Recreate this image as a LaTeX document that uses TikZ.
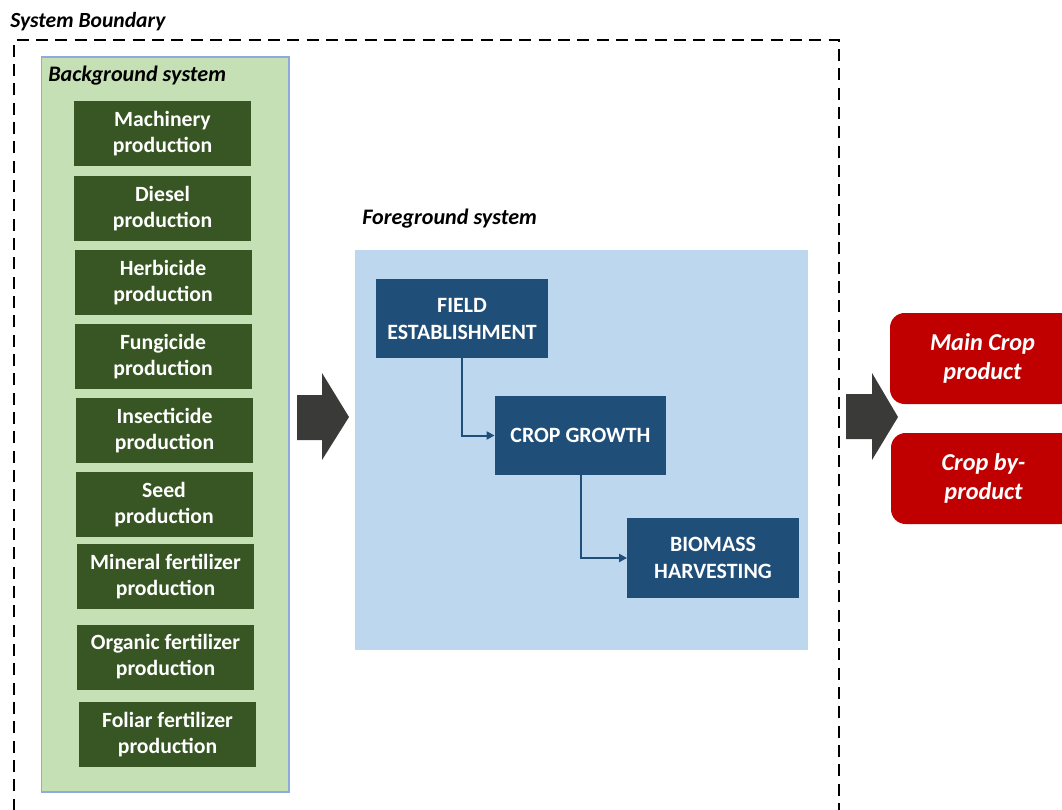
\documentclass[tikz,border=0pt]{standalone}
\usepackage{fontspec}
\setmainfont{Carlito}
\usetikzlibrary{arrows.meta}
\definecolor{bggreen}{HTML}{C5E0B4}
\definecolor{bgedge}{HTML}{8FAADC}
\definecolor{dkgreen}{HTML}{375623}
\definecolor{fgblue}{HTML}{BDD7EE}
\definecolor{dkblue}{HTML}{1F4E79}
\definecolor{crred}{HTML}{C00000}
\definecolor{arrgray}{HTML}{3A3A38}
\tikzset{
  gbox/.style={fill=dkgreen, text=white, font=\bfseries\fontsize{16.3}{19.5}\selectfont,
    minimum width=132.75pt, minimum height=48.75pt, inner sep=0pt, align=center},
  bbox/.style={fill=dkblue, text=white, font=\bfseries\fontsize{16.4}{20.25}\selectfont,
    minimum width=128.5pt, minimum height=59.5pt, inner sep=0pt, align=center},
  rbox/.style={fill=crred, text=white, rounded corners=11pt, font=\bfseries\itshape\fontsize{18.2}{21.75}\selectfont,
    minimum width=138.75pt, minimum height=68.25pt, inner sep=0pt, align=center},
  title/.style={anchor=west, inner sep=0pt, font=\bfseries\itshape\fontsize{16.6}{19}\selectfont},
  flow/.style={draw=dkblue, line width=1.5pt, -{Triangle[length=6pt,width=6pt]}},
  blockarrow/.style={fill=arrgray, draw=none},
}
\begin{document}
\begin{tikzpicture}[x=0.75pt,y=-0.75pt]
\useasboundingbox (0,0) rectangle (1062,809);
\fill[white] (0,0) rectangle (1062,809);
% system boundary
\draw[line width=2.1pt, dash pattern=on 9pt off 5.5pt] (14,830) -- (14,40) -- (839,40) -- (839,830);
\node[title, font=\bfseries\itshape\fontsize{16.2}{19}\selectfont] (sysb) at (10,22) {System Boundary};
% background system
\draw[fill=bggreen, draw=bgedge, line width=0.8pt] (41.5,57) rectangle (289,792);
\node[title] (bgl) at (48,76) {Background system};
\node[gbox] (mach) at (162.5,133.5) {Machinery\\production};
\node[gbox] (dies) at (162.5,208.5) {Diesel\\production};
\node[gbox] (herb) at (163,282.5) {Herbicide\\production};
\node[gbox] (fung) at (163,356.5) {Fungicide\\production};
\node[gbox] (inse) at (164.5,430.5) {Insecticide\\production};
\node[gbox] (seed) at (164,504.5) {Seed\\production};
\node[gbox] (mine) at (165.5,576.5) {Mineral fertilizer\\production};
\node[gbox] (orga) at (165.5,657) {Organic fertilizer\\production};
\node[gbox] (foli) at (167.5,734.5) {Foliar fertilizer\\production};
% foreground system
\fill[fgblue] (355,250) rectangle (808,650);
\node[title] (fgl) at (362,219) {Foreground system};
\node[bbox] (field) at (462,318.5) {FIELD\\ESTABLISHMENT};
\node[bbox] (growth) at (580.5,435.5) {CROP GROWTH};
\node[bbox] (bio) at (713,558) {BIOMASS\\HARVESTING};
\draw[flow] (field.south) |- (growth.west);
\draw[flow] (growth.south) |- (bio.west);
% block arrows
\path[blockarrow] (297,395) -- (322,395) -- (322,373) -- (349,417) -- (322,460) -- (322,440) -- (297,440) -- cycle;
\path[blockarrow] (846,394) -- (872,394) -- (872,373) -- (898,417) -- (872,460) -- (872,439) -- (846,439) -- cycle;
% outputs
\node[rbox] (main) at (982.5,358.5) {Main Crop\\product};
\node[rbox] (byp) at (983.5,478.5) {Crop by-\\product};
\end{tikzpicture}
\end{document}
